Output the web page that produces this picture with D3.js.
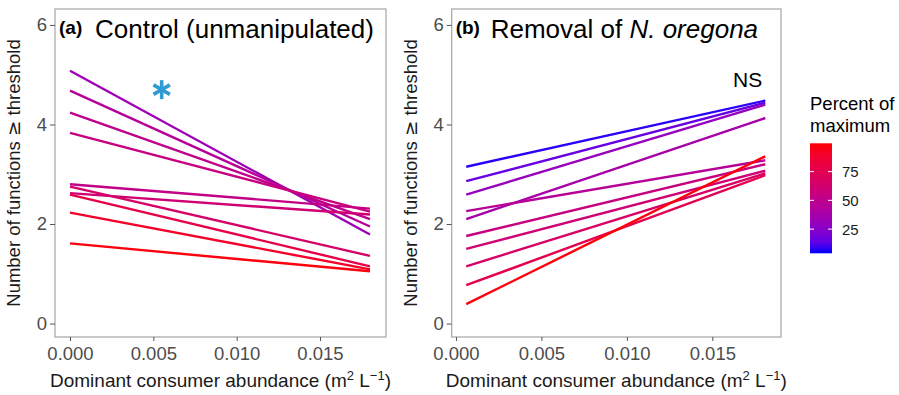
<!DOCTYPE html>
<html>
<head>
<meta charset="utf-8">
<script src="https://cdn.jsdelivr.net/npm/d3@7"></script>
<style>
  body { margin: 0; background: #fff; }
  svg { display: block; font-family: "Liberation Sans", Arial, sans-serif; }
</style>
</head>
<body>
<svg id="chart" width="899" height="395"></svg>
<script>
// tick labels
const xTicks = [0, 0.005, 0.010, 0.015];
const yTicks = [0, 2, 4, 6];
const legendTicks = [25, 50, 75];

// (a) control: fitted line ends, one line per threshold (% of maximum)
const aX = [0, 0.018];
const aStart = [5.08, 4.68, 4.24, 3.83, 2.80, 2.62, 2.75, 2.59, 2.23, 1.61];
const aEnd   = [1.79, 1.95, 2.10, 2.25, 2.31, 2.19, 1.36, 1.15, 1.09, 1.05];
const aPct   = [33, 45, 50, 55, 52, 60, 65, 78, 90, 97];

// (b) removal of N. oregona
const bX = [0.0006, 0.0181];
const bStart = [3.15, 2.86, 2.59, 2.10, 2.26, 1.76, 1.50, 1.15, 0.77, 0.39];
const bEnd   = [4.48, 4.44, 4.40, 4.13, 3.28, 3.20, 3.07, 3.02, 2.98, 3.36];
const bPct   = [6, 15, 30, 38, 45, 55, 60, 66, 75, 97];

const svg = d3.select('#chart');

// blue -> red gradient like ggplot's scale_colour_gradient
const color = d3.scaleLinear().domain([4, 99]).range(['blue', 'red'])
    .interpolate(d3.interpolateLab);

const yScale = d3.scaleLinear().domain([-0.27, 6.32]).range([337, 9]);

function panel(opts) {
    const x = d3.scaleLinear().domain(opts.xDomain).range([opts.left, opts.right]);
    const g = svg.append('g');

    // lines, lowest threshold first so red ends on top
    const lines = opts.start.map((s, i) => ({
        pct: opts.pct[i],
        pts: [[opts.xs[0], s], [opts.xs[1], opts.end[i]]]
    })).sort((p, q) => p.pct - q.pct);

    const lineGen = d3.line().x(d => x(d[0])).y(d => yScale(d[1]));
    g.selectAll('path.fit')
        .data(lines)
        .join('path')
        .attr('class', 'fit')
        .attr('fill', 'none')
        .attr('stroke', d => color(d.pct))
        .attr('stroke-width', 2.4)
        .attr('d', d => lineGen(d.pts));

    // panel border
    g.append('rect')
        .attr('x', opts.left).attr('y', 9)
        .attr('width', opts.right - opts.left).attr('height', 328)
        .attr('fill', 'none').attr('stroke', '#a6a6a6').attr('stroke-width', 1.2);

    // axes
    const xAxis = d3.axisBottom(x).tickValues(xTicks).tickFormat(d3.format('.3f'))
        .tickSize(4).tickPadding(6);
    const gx = g.append('g').attr('transform', `translate(0,337)`).call(xAxis);
    const yAxis = d3.axisLeft(yScale).tickValues(yTicks).tickFormat(d3.format('d'))
        .tickSize(5).tickPadding(3);
    const gy = g.append('g').attr('transform', `translate(${opts.left},0)`).call(yAxis);
    [gx, gy].forEach(a => {
        a.select('.domain').remove();
        a.selectAll('line').attr('stroke', '#555');
        a.selectAll('text').attr('fill', '#4d4d4d').style('font-size', '18.5px')
            .style('font-family', '"Liberation Sans", Arial, sans-serif');
    });

    // axis titles
    const xt = g.append('text')
        .attr('x', (opts.left + opts.right) / 2).attr('y', 387)
        .attr('text-anchor', 'middle').style('font-size', '19px').attr('fill', '#1a1a1a');
    xt.append('tspan').text('Dominant consumer abundance (m');
    xt.append('tspan').text('2').attr('dy', -7).style('font-size', '13px');
    xt.append('tspan').text(' L').attr('dy', 7);
    xt.append('tspan').text('\u22121').attr('dy', -7).style('font-size', '13px');
    xt.append('tspan').text(')').attr('dy', 7);

    const yt = g.append('text')
        .attr('transform', `translate(${opts.left - 35},173) rotate(-90)`)
        .attr('text-anchor', 'middle').style('font-size', '18.5px').attr('fill', '#1a1a1a');
    yt.append('tspan').text('Number of functions ');
    yt.append('tspan').text('\u2265').style('font-family', '"DejaVu Sans", sans-serif');
    yt.append('tspan').text(' threshold');

    // panel label + title
    g.append('text').attr('x', opts.left + 4).attr('y', 33.5)
        .style('font-size', '19px').style('font-weight', 'bold').text(opts.tag);
    const tt = g.append('text').attr('x', opts.titleX).attr('y', 38.3)
        .style('font-size', '26px').attr('fill', '#000');
    opts.title.forEach(t => tt.append('tspan').text(t.s).style('font-style', t.it ? 'italic' : 'normal'));
    return {g, x};
}

const pa = panel({
    left: 55, right: 386, xDomain: [-0.0009, 0.01896],
    xs: aX, start: aStart, end: aEnd, pct: aPct,
    tag: '(a)', titleX: 95, title: [{s: 'Control (unmanipulated)'}]
});
const pb = panel({
    left: 451.7, right: 781, xDomain: [-0.00025, 0.01902],
    xs: bX, start: bStart, end: bEnd, pct: bPct,
    tag: '(b)', titleX: 490.7, title: [{s: 'Removal of '}, {s: 'N. oregona', it: true}]
});

// significance marks
const star = pa.g.append('g')
    .attr('transform', `translate(${pa.x(0.0055)},${yScale(4.7)})`)
    .attr('stroke', '#2f9bd3').attr('stroke-width', 3.6).attr('stroke-linecap', 'butt');
[90, 30, 150].forEach(a => {
    const r = 9.5, t = a * Math.PI / 180;
    star.append('line')
        .attr('x1', -r * Math.cos(t)).attr('y1', -r * Math.sin(t))
        .attr('x2', r * Math.cos(t)).attr('y2', r * Math.sin(t));
});
pb.g.append('text').attr('x', 733).attr('y', 86.5)
    .style('font-size', '21px').text('NS');

// colour bar legend
const leg = svg.append('g');
const defs = svg.append('defs');
const grad = defs.append('linearGradient').attr('id', 'pgrad')
    .attr('x1', 0).attr('y1', 1).attr('x2', 0).attr('y2', 0);
d3.range(0, 1.0001, 0.1).forEach(t => {
    grad.append('stop').attr('offset', t).attr('stop-color', color(4 + t * 95));
});
const ly = d3.scaleLinear().domain([4, 99.6]).range([253.3, 143.3]);
leg.append('rect').attr('x', 810).attr('y', ly(99.6))
    .attr('width', 22).attr('height', ly(4) - ly(99.6)).attr('fill', 'url(#pgrad)');
leg.selectAll('line.tk').data(legendTicks).join('line').attr('class', 'tk')
    .attr('x1', 810).attr('x2', 814).attr('y1', d => ly(d)).attr('y2', d => ly(d))
    .attr('stroke', '#fff').attr('stroke-width', 1);
leg.selectAll('line.tk2').data(legendTicks).join('line').attr('class', 'tk2')
    .attr('x1', 828).attr('x2', 832).attr('y1', d => ly(d)).attr('y2', d => ly(d))
    .attr('stroke', '#fff').attr('stroke-width', 1);
leg.selectAll('text.lab').data(legendTicks).join('text').attr('class', 'lab')
    .attr('x', 842).attr('y', d => ly(d)).attr('dy', '0.36em')
    .style('font-size', '15px').attr('fill', '#1a1a1a').text(d => d);
leg.append('text').attr('x', 810).attr('y', 110).style('font-size', '18.5px').text('Percent of');
leg.append('text').attr('x', 810).attr('y', 132).style('font-size', '18.5px').text('maximum');
</script>
</body>
</html>
